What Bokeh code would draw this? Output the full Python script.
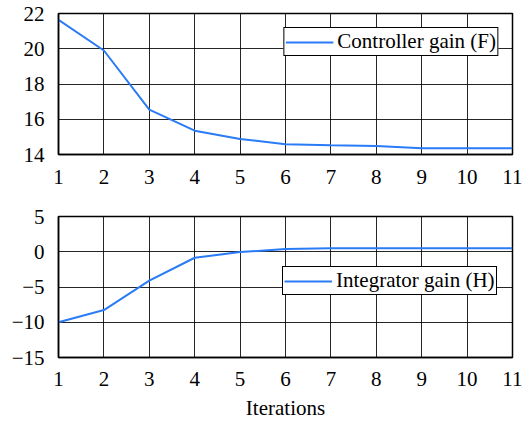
from bokeh.plotting import figure
from bokeh.layouts import column
from bokeh.models import Range1d, FixedTicker, Legend, LegendItem
from bokeh.embed import file_html
from bokeh.resources import INLINE

iterations = [1, 2, 3, 4, 5, 6, 7, 8, 9, 10, 11]
controller_gain = [21.64, 19.9, 16.55, 15.35, 14.88, 14.58, 14.52, 14.48, 14.36, 14.36, 14.36]
integrator_gain = [-10.0, -8.27, -4.1, -0.85, -0.05, 0.38, 0.5, 0.5, 0.5, 0.5, 0.5]

x_ticks = list(range(1, 12))
top_ticks = [14, 16, 18, 20, 22]
bottom_ticks = [-15, -10, -5, 0, 5]
bottom_tick_labels = {-15: "\u221215", -10: "\u221210", -5: "\u22125", 0: "0", 5: "5"}

FONT = "'Liberation Serif', 'Times New Roman', serif"
FS = "21px"
BLUE = "#2a7bf6"


def style(p, yticks, xstandoff):
    p.xaxis.ticker = FixedTicker(ticks=x_ticks)
    p.yaxis.ticker = FixedTicker(ticks=yticks)
    for ax in (p.xaxis, p.yaxis):
        ax.major_label_text_font = FONT
        ax.major_label_text_font_size = FS
        ax.major_label_text_color = "black"
        ax.major_tick_out = 0
        ax.major_tick_in = 0
        ax.minor_tick_out = 0
        ax.minor_tick_in = 0
        ax.axis_line_color = "black"
        ax.axis_line_width = 1.5
    p.xaxis.major_label_standoff = xstandoff
    p.yaxis.major_label_standoff = 14
    p.xgrid.grid_line_color = "black"
    p.ygrid.grid_line_color = "black"
    p.xgrid.grid_line_alpha = 0.85
    p.ygrid.grid_line_alpha = 0.85
    p.xgrid.grid_line_width = 1
    p.ygrid.grid_line_width = 1
    p.outline_line_color = "black"
    p.outline_line_width = 1.5
    p.outline_line_alpha = 1.0
    p.background_fill_color = "white"
    p.border_fill_color = "white"


def make_legend(renderer, label, location):
    lg = Legend(items=[LegendItem(label=label, renderers=[renderer])], location=location)
    lg.label_text_font = FONT
    lg.label_text_font_size = FS
    lg.label_text_color = "black"
    lg.border_line_color = "black"
    lg.border_line_width = 1
    lg.border_line_alpha = 1.0
    lg.background_fill_alpha = 1.0
    lg.padding = 1
    lg.spacing = 0
    lg.margin = 14
    lg.glyph_width = 48
    lg.glyph_height = 20
    lg.label_height = 20
    lg.label_standoff = 4
    return lg


p1 = figure(width=522, height=200, output_backend="svg", toolbar_location=None,
            x_range=Range1d(1, 11), y_range=Range1d(14, 22),
            min_border_top=13, min_border_bottom=46, min_border_left=58, min_border_right=10)
r1 = p1.line(iterations, controller_gain, line_color=BLUE, line_width=2)
style(p1, top_ticks, 15)
p1.add_layout(make_legend(r1, "Controller gain (F)", "top_right"))

p2 = figure(width=522, height=223, output_backend="svg", toolbar_location=None,
            x_range=Range1d(1, 11), y_range=Range1d(-15, 5),
            min_border_top=16, min_border_bottom=66, min_border_left=58, min_border_right=10)
r2 = p2.line(iterations, integrator_gain, line_color=BLUE, line_width=2)
style(p2, bottom_ticks, 14)
p2.yaxis.major_label_overrides = bottom_tick_labels
p2.xaxis.axis_label = "Iterations"
p2.xaxis.axis_label_text_font = FONT
p2.xaxis.axis_label_text_font_size = FS
p2.xaxis.axis_label_text_font_style = "normal"
p2.xaxis.axis_label_text_color = "black"
p2.xaxis.axis_label_standoff = 7
p2.add_layout(make_legend(r2, "Integrator gain (H)", (224, 62)))

layout = column(p1, p2, spacing=0)
open("out.html", "w").write(file_html(layout, INLINE))
